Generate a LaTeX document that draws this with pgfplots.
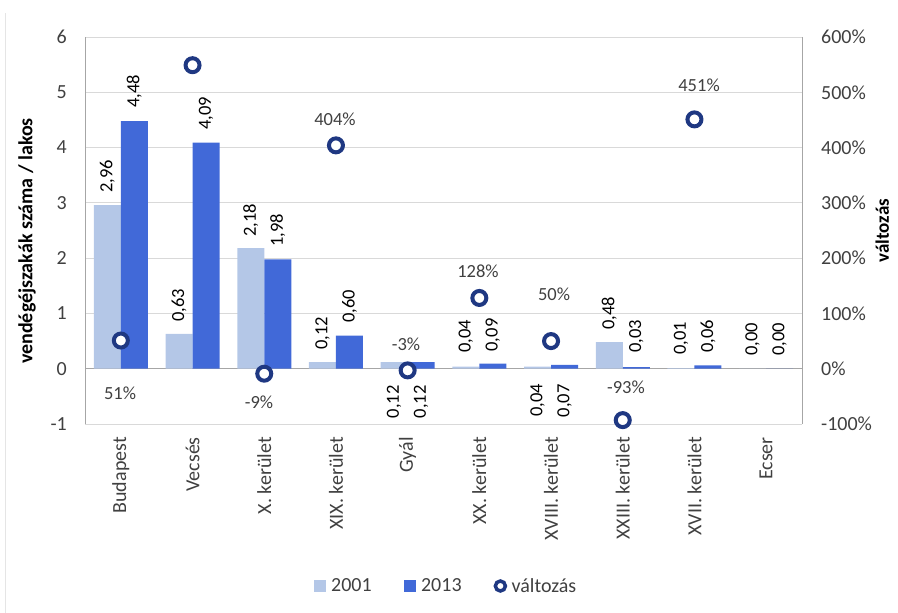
\documentclass[border=0pt]{standalone}
\usepackage{pgfplots}
\pgfplotsset{compat=1.18}
\usepackage{pgfplotstable}
\usepackage{fontspec}
\setmainfont{Carlito}

\definecolor{c2001}{HTML}{B4C7E7}
\definecolor{c2013}{HTML}{4169D8}
\definecolor{cchg}{HTML}{1F3882}
\definecolor{txt}{HTML}{404040}
\definecolor{gridc}{HTML}{D9D9D9}
\definecolor{axc}{HTML}{A6A6A6}

% vendégéjszakák / lakos, with label heights (l01, l13)
\pgfplotstableread{
x  y01   y13   l01    l13    t01   t13
0  2.96  4.48  3.18   4.72   2,96  4,48
1  0.63  4.09  0.85   4.32   0,63  4,09
2  2.18  1.98  2.39   2.20   2,18  1,98
3  0.12  0.60  0.34   0.83   0,12  0,60
4  0.12  0.12  -0.90  -0.90  0,12  0,12
5  0.04  0.09  0.29   0.31   0,04  0,09
6  0.04  0.07  -0.87  -0.88  0,04  0,07
7  0.48  0.03  0.70   0.29   0,48  0,03
8  0.01  0.06  0.25   0.29   0,01  0,06
9  0.00  0.00  0.23   0.23   0,00  0,00
}\bars

% változás (%)
\pgfplotstableread{
x  chg
0  51
1  549
2  -9
3  404
4  -3
5  128
6  50
7  -93
8  451
}\chg

\begin{document}
\begin{tikzpicture}
\path[use as bounding box] (0,0) rectangle (898pt,-613pt);
\draw[black!10, line width=0.8pt] (5pt,-13pt) -- (5pt,-613pt);

\begin{axis}[
    at={(85pt,-424pt)}, anchor=south west,
    scale only axis, width=717pt, height=387pt,
    xmin=-0.5, xmax=9.5, ymin=-1, ymax=6,
    axis y line*=left, axis x line*=bottom,
    x axis line style={draw=none},
    y axis line style={draw=axc, line width=1pt},
    xtick={0,...,9},
    xticklabels={Budapest, Vecsés, X. kerület, XIX. kerület, Gyál, XX. kerület,
        XVIII. kerület, XXIII. kerület, XVII. kerület, Ecser},
    ytick={-1,0,...,6},
    major tick length=0pt,
    ymajorgrids, grid style={gridc, line width=1pt},
    extra y ticks={0}, extra y tick labels={},
    extra y tick style={grid style={axc, line width=1pt}},
    /pgf/number format/assume math mode=true,
    tick label style={font=\fontsize{20}{24}\selectfont, text=txt},
    yticklabel style={anchor=east, inner sep=0pt, xshift=-18pt},
    xticklabel style={inner sep=0pt, yshift=-13pt, rotate=90, anchor=east},
    ylabel={vendégéjszakák száma / lakos},
    ylabel style={at={(axis description cs:-0.0809,0.473)}, anchor=center,
        font=\bfseries\fontsize{20}{24}\selectfont, text=black},
]
\addplot[ybar, bar width=27pt, bar shift=-13.5pt, fill=c2001, draw=none]
    table[x=x, y=y01] {\bars};
\addplot[ybar, bar width=27pt, bar shift=13.5pt, fill=c2013, draw=none]
    table[x=x, y=y13] {\bars};

\addplot[draw=none, forget plot, nodes near coords, point meta=explicit symbolic,
    nodes near coords style={font=\fontsize{18.5}{20}\selectfont, text=black,
        rotate=90, anchor=west, inner sep=0pt}]
    table[x expr=\thisrow{x}-0.1883, y=l01, meta=t01] {\bars};
\addplot[draw=none, forget plot, nodes near coords, point meta=explicit symbolic,
    nodes near coords style={font=\fontsize{18.5}{20}\selectfont, text=black,
        rotate=90, anchor=west, inner sep=0pt}]
    table[x expr=\thisrow{x}+0.1883, y=l13, meta=t13] {\bars};
\end{axis}

\begin{axis}[
    at={(85pt,-424pt)}, anchor=south west,
    scale only axis, width=717pt, height=387pt,
    xmin=-0.5, xmax=9.5, ymin=-100, ymax=600,
    axis y line*=right, axis x line=none,
    y axis line style={draw=axc, line width=1pt},
    ytick={-100,0,...,600},
    major tick length=0pt,
    /pgf/number format/assume math mode=true,
    yticklabel={\pgfmathprintnumber{\tick}\%},
    yticklabel style={anchor=west, inner sep=0pt, xshift=19pt,
        font=\fontsize{20}{24}\selectfont, text=txt},
    ylabel={változás},
    ylabel style={at={(axis description cs:1.112,0.5)}, anchor=center,
        font=\bfseries\fontsize{19}{22}\selectfont, text=black},
    legend columns=3,
    legend style={at={(axis description cs:0.5035,-0.4186)}, anchor=center,
        draw=none, fill=none, font=\fontsize{20}{24}\selectfont, text=txt,
        /tikz/every even column/.append style={column sep=30pt}},
]
\addlegendimage{legend image code/.code={\fill[c2001] (0pt,-5.5pt) rectangle (11pt,5.5pt);
    \path (15pt,0pt);}}
\addlegendentry{2001}
\addlegendimage{legend image code/.code={\fill[c2013] (0pt,-5.5pt) rectangle (11pt,5.5pt);
    \path (15pt,0pt);}}
\addlegendentry{2013}
\addlegendimage{legend image code/.code={\draw[cchg, line width=3.5pt, fill=white] (6pt,0pt) circle (5pt);
    \path (15pt,0pt);}}
\addlegendentry{változás}

\addplot[only marks, forget plot, mark=*, mark size=7pt,
    mark options={draw=cchg, fill=white, line width=4pt}]
    table[x=x, y=chg] {\chg};

\addplot[draw=none, forget plot, nodes near coords, point meta=explicit symbolic,
    nodes near coords style={font=\fontsize{18.5}{20}\selectfont, text=txt,
        anchor=center, inner sep=0pt}]
    coordinates {
    (-0.012,-45) [51\%]
    (1.062,604) [549\%]
    (1.927,-61) [-9\%]
    (2.987,452) [404\%]
    (3.977,45) [-3\%]
    (4.981,176) [128\%]
    (6.041,134) [50\%]
    (7.045,-33) [-93\%]
    (8.064,512) [451\%]
    };
\end{axis}
\end{tikzpicture}
\end{document}
